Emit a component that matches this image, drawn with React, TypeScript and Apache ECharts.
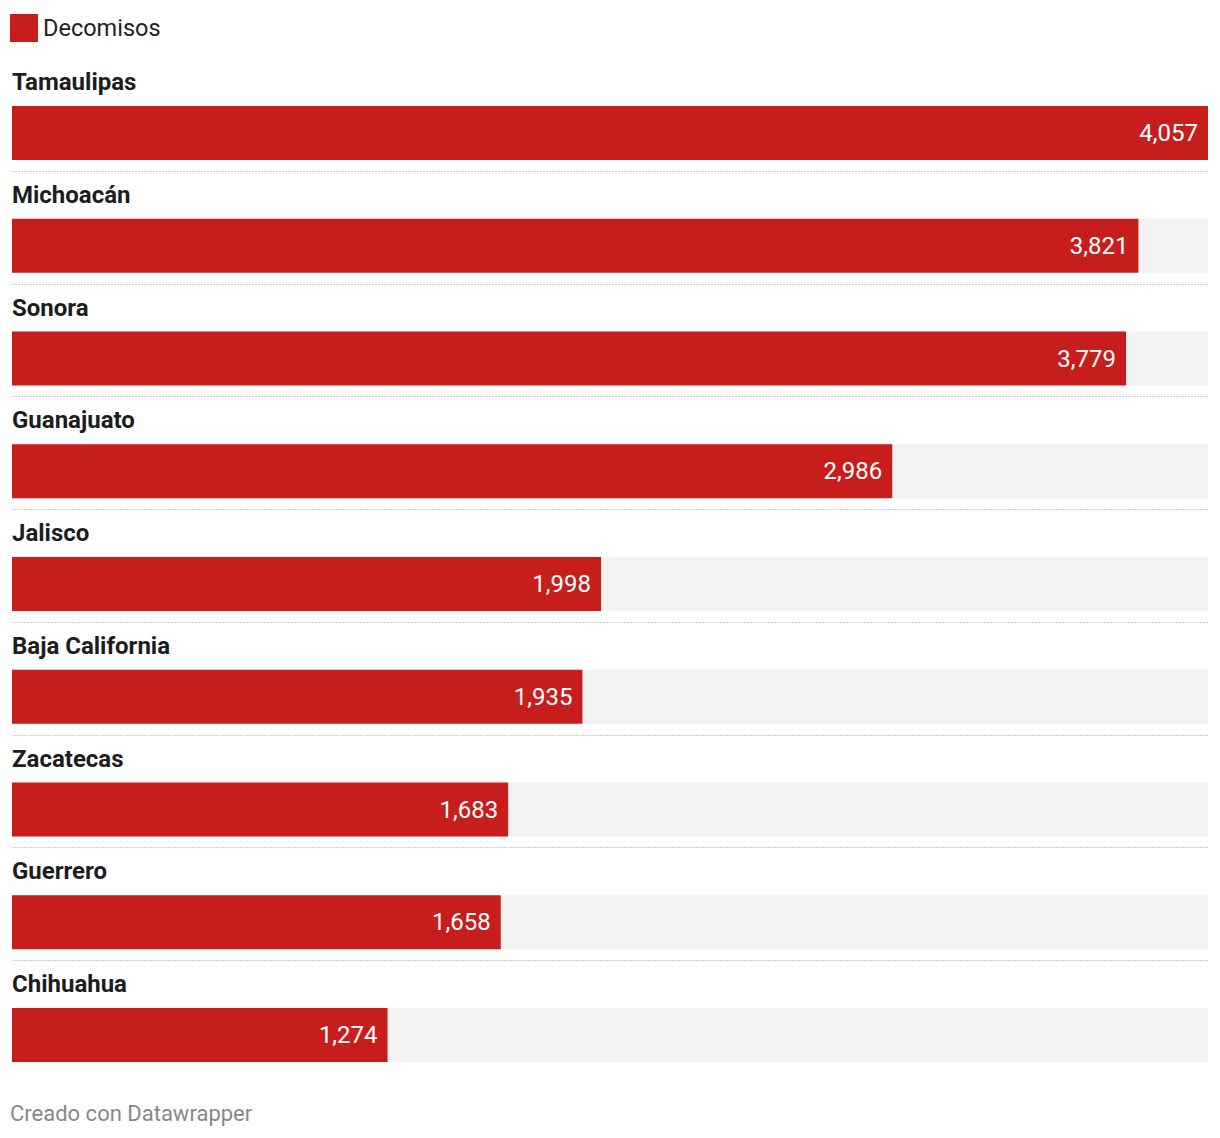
import React, { useEffect, useRef } from "react";
import * as echarts from "echarts";

const categories = [
  "Tamaulipas",
  "Michoacán",
  "Sonora",
  "Guanajuato",
  "Jalisco",
  "Baja California",
  "Zacatecas",
  "Guerrero",
  "Chihuahua",
];
const values = [4057, 3821, 3779, 2986, 1998, 1935, 1683, 1658, 1274];
const seriesName = "Decomisos";
const footerText = "Creado con Datawrapper";

const RED = "#c71e1d";
const FONT = "Roboto, 'Noto Sans', sans-serif";

export default function App() {
  const ref = useRef<HTMLDivElement>(null);

  useEffect(() => {
    if (!ref.current) return;
    const chart = echarts.init(ref.current, undefined, { renderer: "svg" });
    const band = 112.75;
    const n = categories.length;
    const barTop = 133 - band / 2;
    const sepTop = 171 - band;
    const labelTop = 82 - band / 2;
    const fmt = (v: number) => v.toLocaleString("en-US");

    chart.setOption({
      animation: false,
      textStyle: { fontFamily: FONT },
      legend: {
        left: 10,
        top: 14,
        padding: 0,
        icon: "rect",
        itemWidth: 28,
        itemHeight: 28,
        data: [seriesName],
        textStyle: { fontSize: 23.5, color: "#222", fontFamily: FONT },
        selectedMode: false,
      },
      grid: [
        { left: 12, right: 12, top: barTop, height: band * n },
        { left: 12, right: 12, top: sepTop, height: band * n },
        { left: 12, right: 12, top: labelTop, height: band * n },
      ],
      xAxis: [
        { type: "value", gridIndex: 0, min: 0, max: 4057, show: false },
        { type: "value", gridIndex: 1, min: 0, max: 1, show: false },
        { type: "value", gridIndex: 2, min: 0, max: 1, show: false },
      ],
      yAxis: [
        {
          type: "category",
          gridIndex: 0,
          data: categories,
          inverse: true,
          show: false,
        },
        {
          type: "category",
          gridIndex: 1,
          data: categories,
          inverse: true,
          axisLine: { show: false },
          axisTick: { show: false },
          axisLabel: { show: false },
          splitLine: {
            show: true,
            showMinLine: false,
            showMaxLine: false,
            lineStyle: { color: "#cccccc", width: 1, type: [2, 1] },
          },
        },
        {
          type: "category",
          gridIndex: 2,
          data: categories,
          inverse: true,
          axisLine: { show: false },
          axisTick: { show: false },
          splitLine: { show: false },
          axisLabel: {
            inside: true,
            margin: 0,
            align: "left",
            verticalAlign: "middle",
            fontSize: 24,
            fontWeight: "bold",
            color: "#1d1d1d",
            fontFamily: FONT,
          },
        },
      ],
      series: [
        {
          name: seriesName,
          type: "bar",
          xAxisIndex: 0,
          yAxisIndex: 0,
          data: values,
          barWidth: 54,
          itemStyle: { color: RED },
          showBackground: true,
          backgroundStyle: { color: "#f2f2f2" },
          label: {
            show: true,
            position: "insideRight",
            distance: 10,
            color: "#ffffff",
            fontSize: 24,
            fontFamily: FONT,
            formatter: (p: any) => fmt(p.value),
          },
        },
      ],
      graphic: [
        {
          type: "text",
          left: 10,
          top: 1102,
          style: {
            text: footerText,
            fill: "#888888",
            fontSize: 22,
            fontFamily: FONT,
          },
        },
      ],
    });

    return () => chart.dispose();
  }, []);

  return (
    <div
      ref={ref}
      style={{ position: "absolute", left: 0, top: 0, width: 1220, height: 1138 }}
    />
  );
}
